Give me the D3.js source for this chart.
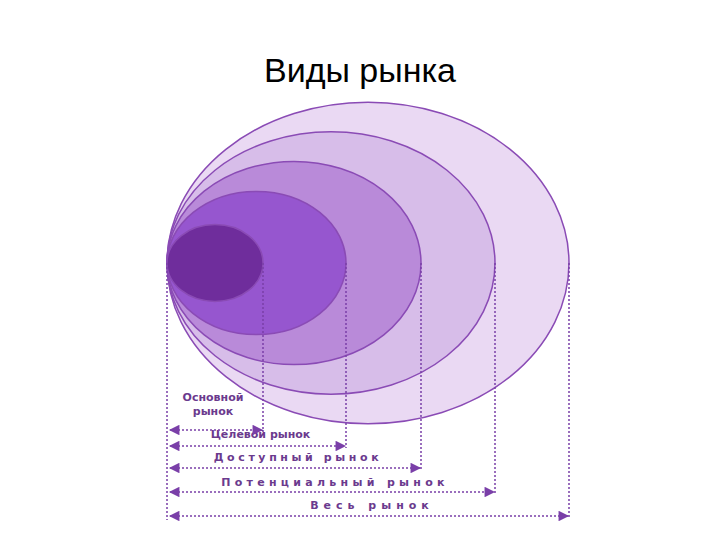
<!DOCTYPE html><html><head><meta charset="utf-8"><script src="https://cdn.jsdelivr.net/npm/d3@7"></script>
<style>body{margin:0;background:#fff}</style></head><body><svg id="c" width="720" height="540"></svg>
<script>
const markets = ["Весь рынок","Потенциальный рынок","Доступный рынок","Целевой рынок","Основной рынок"];
const widths = [402, 328, 254, 179, 96];
const fills = ["#ead9f3","#d7bde9","#b98ad9","#9656cf","#6f2d9c"];
const labelY = [509, 486, 461, 438, 0];
const arrowY = [516, 492, 468, 446, 430];
const spacing = [5, 4.3, 3.6, 0, 0];

const svg = d3.select("#c");
const x = d3.scaleLinear().domain([0, 402]).range([167, 569]);
const cy = 263;
svg.append("text").attr("x",360).attr("y",82).attr("text-anchor","middle")
  .attr("font-family","Liberation Sans, Arial").attr("font-size",34).text("Виды рынка");
const col = "#7a3fa8";
widths.forEach((w,i)=>{
  const rx = (x(w)-x(0))/2;
  svg.append("ellipse").attr("cx",x(w/2)).attr("cy",cy).attr("rx",rx).attr("ry",rx*0.8)
    .attr("fill",fills[i]).attr("stroke","#8a4bb5").attr("stroke-width",1.5);
});
svg.append("line").attr("x1",x(0)).attr("x2",x(0)).attr("y1",cy).attr("y2",520)
  .attr("stroke",col).attr("stroke-width",1.5).attr("stroke-dasharray","2,2");
const defs = svg.append("defs");
defs.append("marker").attr("id","a").attr("viewBox","0 0 10 10").attr("refX",9).attr("refY",5)
  .attr("markerWidth",8).attr("markerHeight",7).attr("orient","auto-start-reverse")
  .append("path").attr("d","M0,0L10,5L0,10z").attr("fill",col);
widths.forEach((w,i)=>{
  svg.append("line").attr("x1",x(w)).attr("x2",x(w)).attr("y1",cy).attr("y2",arrowY[i]+2)
    .attr("stroke",col).attr("stroke-width",1.5).attr("stroke-dasharray","2,2");
  svg.append("line").attr("x1",x(0)+3).attr("x2",x(w)-1).attr("y1",arrowY[i]).attr("y2",arrowY[i])
    .attr("stroke",col).attr("stroke-width",1.5).attr("stroke-dasharray","2,2")
    .attr("marker-start","url(#a)").attr("marker-end","url(#a)");
  const t = svg.append("text").attr("text-anchor","middle").attr("fill","#6b3a8e")
    .attr("font-family","DejaVu Sans, Verdana").attr("font-weight","bold").attr("font-size",11);
  if(i===4){
    t.attr("x",x(w/2)-2).attr("y",401).text("Основной");
    svg.append("text").attr("x",x(w/2)-2).attr("y",415).attr("text-anchor","middle").attr("fill","#6b3a8e")
      .attr("font-family","DejaVu Sans, Verdana").attr("font-weight","bold").attr("font-size",11).text("рынок");
  } else {
    t.attr("x",x(w/2)+4).attr("y",labelY[i]).attr("letter-spacing",spacing[i]).text(markets[i]);
  }
});
</script></body></html>
